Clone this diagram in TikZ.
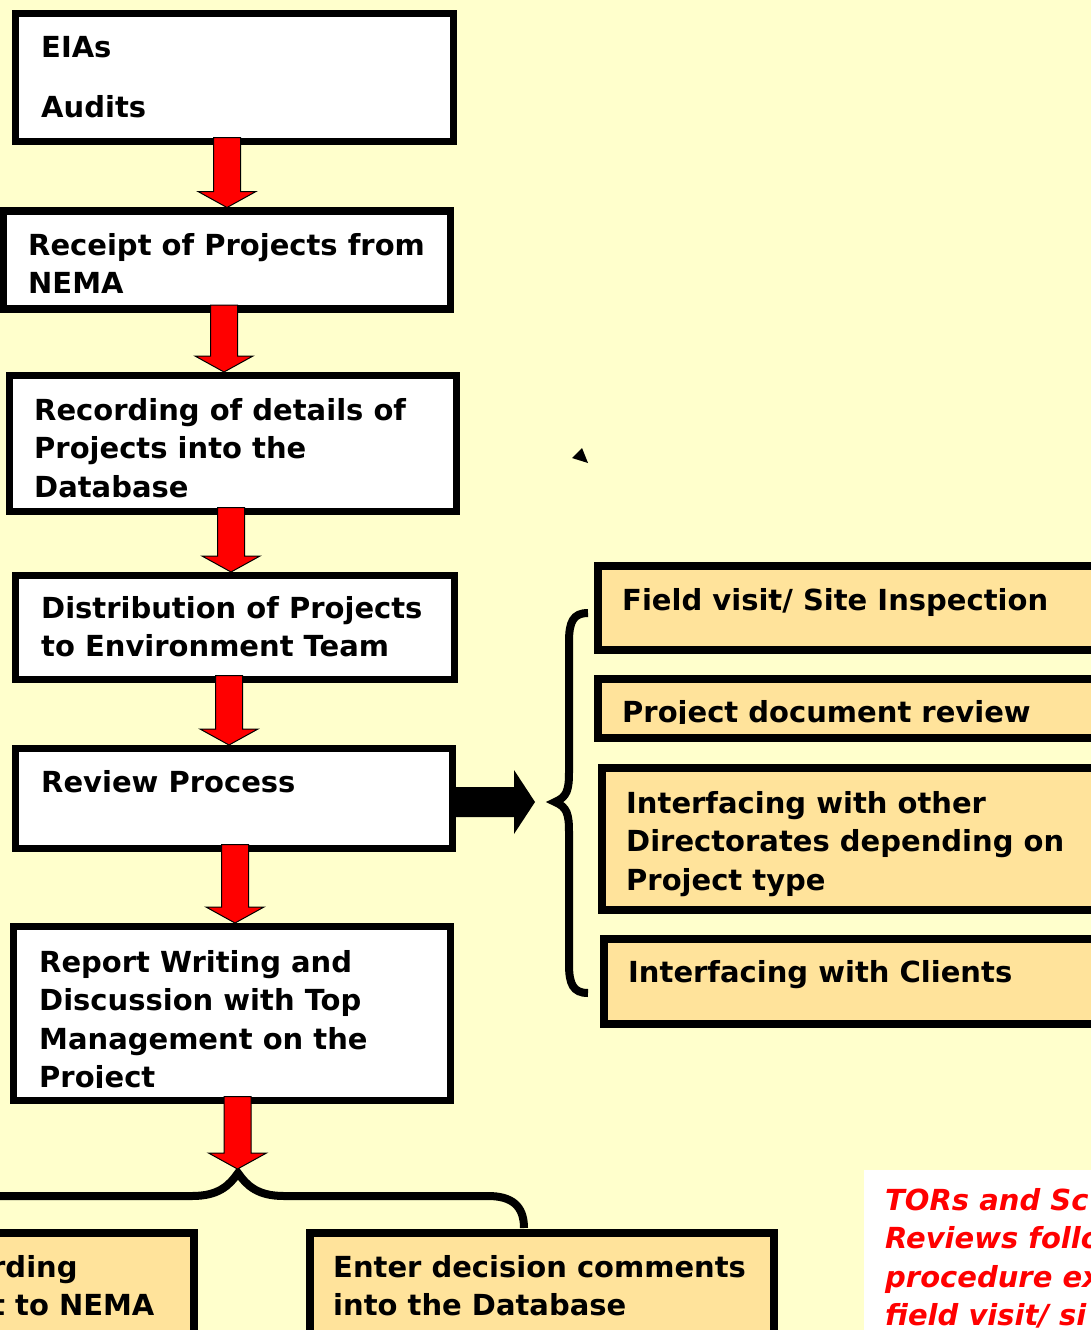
\documentclass[tikz,border=0pt]{standalone}
\usepackage{fontspec}
\setmainfont{DejaVu Sans}
\usetikzlibrary{calc}
\definecolor{bgyellow}{RGB}{255,255,204}
\definecolor{boxorange}{RGB}{255,227,155}
\definecolor{arrowred}{RGB}{255,0,0}
\newcommand\boxfont{\fontsize{29pt}{38.5pt}\selectfont\bfseries}
% #1 source node, #2 target point, #3 x centre, #4 tip raise
\newcommand\flowarrow[4]{%
 \draw[redarrow] let \p1=(#1.south), \p2=(#2) in
 (#3pt-13.5pt,\y1+4pt) -- (#3pt+13.5pt,\y1+4pt) -- (#3pt+13.5pt,\y2+#4pt+16pt)
 -- (#3pt+29pt,\y2+#4pt+16pt) -- (#3pt,\y2+#4pt) -- (#3pt-29pt,\y2+#4pt+16pt)
 -- (#3pt-13.5pt,\y2+#4pt+16pt) -- cycle;}
\begin{document}
\begin{tikzpicture}[x=1pt,y=-1pt,
 whitebox/.style={rectangle,draw=black,line width=7.5pt,fill=white,inner sep=0pt,outer sep=0pt,anchor=north west},
 orangebox/.style={whitebox,fill=boxorange},
 boxtext/.style={anchor=base west,inner sep=0pt,font=\boxfont},
 notetext/.style={anchor=base west,inner sep=0pt,text=arrowred,font=\boxfont\itshape},
 redarrow/.style={fill=arrowred,draw=black,line width=1pt,line join=miter},
 bracestyle/.style={draw=black,line width=8pt}]
\fill[bgyellow] (0,0) rectangle (1091,1330);
\useasboundingbox (0,0) rectangle (1091,1330);

% left column boxes
\node[whitebox,minimum width=438pt,minimum height=128pt] (b1) at (15.5,13.5) {};
\node[whitebox,minimum width=447pt,minimum height=98pt] (b2) at (3.5,211) {};
\node[whitebox,minimum width=447pt,minimum height=136pt] (b3) at (9.5,375.5) {};
\node[whitebox,minimum width=439pt,minimum height=104pt] (b4) at (15.5,575.5) {};
\node[whitebox,minimum width=437pt,minimum height=100pt] (b5) at (15.5,748.5) {};
\node[whitebox,minimum width=437pt,minimum height=174pt] (b6) at (13.5,926.5) {};
% right column boxes
\node[orangebox,minimum width=540pt,minimum height=84pt] (r1) at (598,566) {};
\node[orangebox,minimum width=540pt,minimum height=59pt] (r2) at (598,679) {};
\node[orangebox,minimum width=540pt,minimum height=142pt] (r3) at (602,768) {};
\node[orangebox,minimum width=540pt,minimum height=85pt] (r4) at (604,939) {};
% bottom boxes
\node[orangebox,minimum width=224pt,minimum height=140pt] (d1) at (-30,1233) {};
\node[orangebox,minimum width=464pt,minimum height=140pt] (d2) at (310,1233) {};

% texts
\node[boxtext] (t1) at (41,57) {\vtop{\hbox{EIAs}\vskip22.5pt\hbox{Audits}}};
\node[boxtext] (t2) at (28,255) {\vtop{\hbox{Receipt of Projects from}\hbox{NEMA}}};
\node[boxtext] (t3) at (34,420) {\vtop{\hbox{Recording of details of}\hbox{Projects into the}\hbox{Database}}};
\node[boxtext] (t4) at (41,618) {\vtop{\hbox{Distribution of Projects}\hbox{to Environment Team}}};
\node[boxtext] (t5) at (41,792) {Review Process};
\begin{scope}
\clip (13.5,926.5) rectangle (450,1087);
\node[boxtext] (t6) at (39,972) {\vtop{\hbox{Report Writing and}\hbox{Discussion with Top}\hbox{Management on the}\hbox{Project}}};
\end{scope}
\node[boxtext] (t7) at (622,610) {Field visit/ Site Inspection};
\begin{scope}
\clip (598,679) rectangle (1091,723);
\node[boxtext] (t8) at (622,722) {Project document review};
\end{scope}
\node[boxtext] (t9) at (626,813) {\vtop{\hbox{Interfacing with other}\hbox{Directorates depending on}\hbox{Project type}}};
\node[boxtext] (t10) at (628,982) {Interfacing with Clients};
\node[boxtext] (t11) at (-9,1277) {\vtop{\hbox{rding}\hbox{t to NEMA}}};
\node[boxtext] (t12) at (333,1277) {\vtop{\hbox{Enter decision comments}\hbox{into the Database}}};

% braces
\coordinate (rtip) at (555,802);
\coordinate (btip) at (238,1173);
\draw[bracestyle] (588,613) .. controls (573,613) and (569,622) .. (569,642) -- (569,772)
 .. controls (569,790) and (567,797) .. (rtip) .. controls (567,807) and (569,814) .. (569,832)
 -- (569,964) .. controls (569,984) and (573,993) .. (588,993);
\draw[bracestyle] (-10,1196) -- (192,1196) .. controls (218,1196) and (229,1186) .. (btip)
 .. controls (247,1186) and (258,1196) .. (284,1196) -- (488,1196)
 .. controls (512,1196) and (524,1206) .. (524,1228);

% flow arrows
\flowarrow{b1}{b2.north}{227}{3.5}
\flowarrow{b2}{b3.north}{224}{3.5}
\flowarrow{b3}{b4.north}{231}{3.5}
\flowarrow{b4}{b5.north}{229}{3.5}
\flowarrow{b5}{b6.north}{235}{3.5}
\flowarrow{b6}{btip}{237.5}{4}

% black arrow to the brace
\fill[black] let \p1=(b5.east), \p2=(rtip) in (\x1,\y2+15pt) -- (\x2-41pt,\y2+15pt)
 -- (\x2-41pt,\y2+32pt) -- (\x2-20pt,\y2) -- (\x2-41pt,\y2-32pt) -- (\x2-41pt,\y2-15pt)
 -- (\x1,\y2-15pt) -- cycle;

% stray small triangle
\fill[black] (572,458) -- (582,448) -- (588,463) -- cycle;

% note
\node[fill=white,anchor=north west,inner sep=0pt,minimum width=240pt,minimum height=170pt] (note) at (864,1170) {};
\node[notetext] (notetxt) at (885,1210) {\vtop{\hbox{TORs and Sc}\hbox{Reviews follo}\hbox{procedure ex}\hbox{field visit/ si}}};
\end{tikzpicture}
\end{document}
